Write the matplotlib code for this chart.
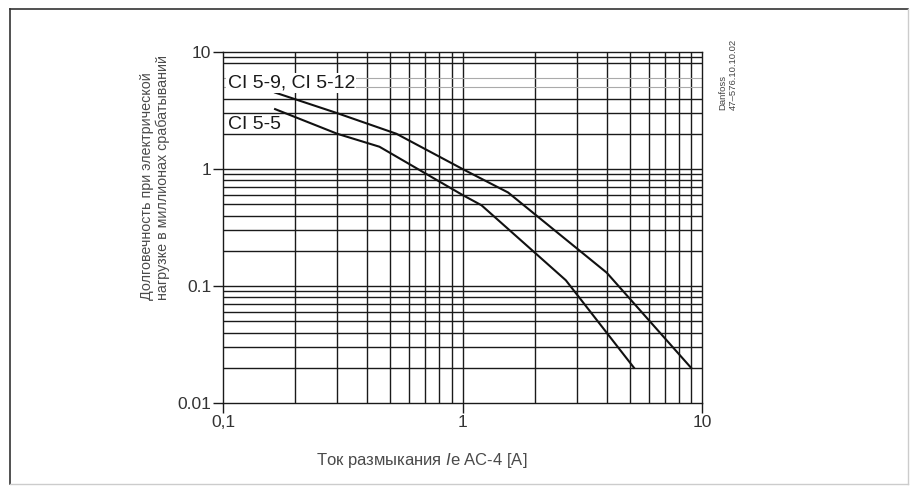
import matplotlib
matplotlib.use('Agg')
import matplotlib.pyplot as plt
from matplotlib.lines import Line2D

plt.rcParams['font.family'] = ['Liberation Sans', 'DejaVu Sans']
plt.rcParams['mathtext.fontset'] = 'custom'
plt.rcParams['mathtext.it'] = 'Liberation Sans:italic'
plt.rcParams['mathtext.rm'] = 'Liberation Sans'

# curve data
cl_upper_x = [0.165, 0.3, 0.53, 1.0, 1.55, 4.0, 9.0]
cl_upper_y = [4.5, 3.0, 2.0, 1.0, 0.63, 0.13, 0.02]
cl_lower_x = [0.165, 0.3, 0.45, 1.0, 1.2, 2.7, 5.2]
cl_lower_y = [3.25, 2.0, 1.55, 0.6, 0.49, 0.112, 0.02]

x_ticks = [0.1, 1, 10]
x_ticklabels = ['0,1', '1', '10']
y_ticks = [0.01, 0.1, 1, 10]
y_ticklabels = ['0.01', '0.1', '1', '10']

label_upper = 'CI 5-9, CI 5-12'
label_lower = 'CI 5-5'
y_title = 'Долговечность при электрической\nнагрузке в миллионах срабатываний'
x_title = 'Ток размыкания $\\mathit{I}$e AC-4 [A]'
stamp = 'Danfoss\n47–576.10.10.02'

W, H = 917, 493
fig = plt.figure(figsize=(W / 100, H / 100), dpi=100)
ax = fig.add_axes([223 / W, 1 - 403 / H, (702 - 223) / W, (403 - 52) / H])
ax.set_xscale('log')
ax.set_yscale('log')
ax.set_xlim(0.1, 10)
ax.set_ylim(0.01, 10)

grid_c = '#1a1a1a'
# vertical grid lines
for dec in [0.1, 1]:
    for k in range(2, 10):
        ax.axvline(dec * k, color=grid_c, lw=1.0, zorder=1)
ax.axvline(1, color=grid_c, lw=1.0, zorder=1)
# horizontal grid lines
for dec in [0.01, 0.1, 1]:
    for k in range(2, 10):
        v = dec * k
        if dec == 1 and k in (5, 6):
            ax.axhline(v, color='#aaaaaa', lw=0.8, zorder=1)
        elif dec == 1 and k == 7:
            continue
        else:
            ax.axhline(v, color=grid_c, lw=1.0, zorder=1)
ax.axhline(0.1, color=grid_c, lw=1.0, zorder=1)
ax.axhline(1, color=grid_c, lw=1.0, zorder=1)

ax.plot(cl_upper_x, cl_upper_y, color='#111111', lw=1.5, zorder=3)
ax.plot(cl_lower_x, cl_lower_y, color='#111111', lw=1.5, zorder=3)

ax.text(0.1045, 5.4, label_upper, fontsize=14, color='#1a1a1a', va='center', ha='left',
        bbox=dict(facecolor='white', edgecolor='none', pad=1.0), zorder=4)
ax.text(0.1045, 2.4, label_lower, fontsize=14, color='#1a1a1a', va='center', ha='left', zorder=4)

for s in ax.spines.values():
    s.set_color(grid_c)
    s.set_linewidth(1.0)

ax.set_xticks(x_ticks)
ax.set_xticklabels(x_ticklabels)
ax.set_yticks(y_ticks)
ax.set_yticklabels(y_ticklabels)
ax.minorticks_off()
ax.tick_params(axis='both', which='major', length=7, width=1.0, color=grid_c,
               labelsize=12.5, labelcolor='#333333', pad=1.5)

fig.text(155 / W, 1 - 300 / H, y_title, rotation=90, ha='center', va='bottom',
         multialignment='left', fontsize=10.3, color='#4a4a4a', linespacing=1.15)
fig.text(422 / W, 1 - 460 / H, x_title, ha='center', va='center',
         fontsize=12, color='#4a4a4a')
fig.text(728 / W, 1 - 110 / H, stamp, rotation=90, ha='center', va='bottom',
         multialignment='left', fontsize=6.8, color='#444444', linespacing=1.1)

# outer frame
fig.add_artist(Line2D([10 / W, 908 / W], [1 - 9 / H, 1 - 9 / H], color='#333333', lw=1.2))
fig.add_artist(Line2D([10 / W, 10 / W], [1 - 9 / H, 1 - 484 / H], color='#333333', lw=1.2))
fig.add_artist(Line2D([908 / W, 908 / W], [1 - 9 / H, 1 - 484 / H], color='#cccccc', lw=1.0))
fig.add_artist(Line2D([10 / W, 908 / W], [1 - 484 / H, 1 - 484 / H], color='#cccccc', lw=1.0))

fig.savefig('out.png', dpi=100)
